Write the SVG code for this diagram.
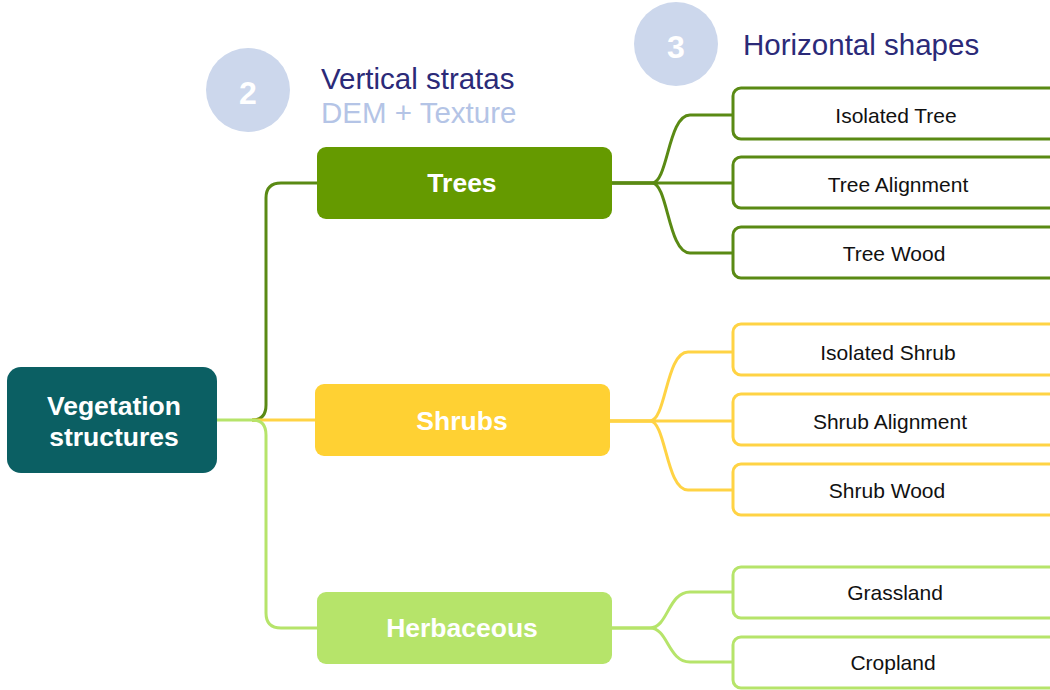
<svg xmlns="http://www.w3.org/2000/svg" width="1050" height="690" viewBox="0 0 1050 690">
<style>
.cat{font-family:"Liberation Sans",Arial,sans-serif;font-weight:bold;font-size:26.5px;fill:#fff;text-anchor:middle;dominant-baseline:central}
.leaf{font-family:"Liberation Sans",Arial,sans-serif;font-size:21px;fill:#111;text-anchor:middle;dominant-baseline:central}
.lbox{fill:#fff;stroke-width:3}
.t{stroke:#5a8a14}
.s{stroke:#ffd344}
.h{stroke:#b6e46a}
.con path{fill:none;stroke-width:3}
.num{font-family:"Liberation Sans",Arial,sans-serif;font-weight:bold;font-size:32px;fill:#fff;text-anchor:middle;dominant-baseline:central}
.head{font-family:"Liberation Sans",Arial,sans-serif;font-size:29.5px;fill:#2b2a78}
.sub{font-family:"Liberation Sans",Arial,sans-serif;font-size:29.5px;fill:#b4c4e6}
</style>
<rect width="1050" height="690" fill="#fff"/>
<g id="connectors" class="con">
<path class="h" d="M217,420 H258"/>
<path class="t" d="M252,420 Q266,420 266,405 V198 Q266,183 281,183 H318"/>
<path class="s" d="M252,420 H316"/>
<path class="h" d="M252,420 Q266,420 266,435 V613 Q266,628 281,628 H318"/>
<path class="t" d="M611,183 H652 C668,183 668,115 690,115 H733"/>
<path class="t" d="M611,183 H733"/>
<path class="t" d="M611,183 H652 C668,183 668,253 690,253 H733"/>
<path class="s" d="M609,421 H650 C666,421 666,352 688,352 H733"/>
<path class="s" d="M609,421 H733"/>
<path class="s" d="M609,421 H650 C666,421 666,490 688,490 H733"/>
<path class="h" d="M611,628 H650 C668,628 668,592 690,592 H733"/>
<path class="h" d="M611,628 H650 C668,628 668,662 690,662 H733"/>
</g>
<g id="header2">
<circle cx="248" cy="90" r="42" fill="#ccd7ec"/>
<text class="num" x="248" y="93">2</text>
<text class="head" x="321" y="89">Vertical stratas</text>
<text class="sub" x="321" y="123">DEM + Texture</text>
</g>
<g id="header3">
<circle cx="676" cy="44" r="42" fill="#ccd7ec"/>
<text class="num" x="676" y="47">3</text>
<text class="head" x="743" y="55">Horizontal shapes</text>
</g>
<g id="root">
<rect x="7" y="367" width="210" height="106" rx="14" fill="#0b5f63"/>
<text class="cat" x="114" y="406">Vegetation</text>
<text class="cat" x="114" y="437">structures</text>
</g>
<g id="trees">
<rect x="317" y="147" width="295" height="72" rx="9" fill="#659a00"/>
<text class="cat" x="462" y="183">Trees</text>
</g>
<g id="shrubs">
<rect x="315" y="384" width="295" height="72" rx="9" fill="#ffd133"/>
<text class="cat" x="462" y="421">Shrubs</text>
</g>
<g id="herbaceous">
<rect x="317" y="592" width="295" height="72" rx="9" fill="#b6e46a"/>
<text class="cat" x="462" y="628">Herbaceous</text>
</g>
<g id="isolated-tree"><rect class="lbox t" x="733" y="88" width="340" height="51" rx="8"/><text class="leaf" x="896" y="115">Isolated Tree</text></g>
<g id="tree-alignment"><rect class="lbox t" x="733" y="157" width="340" height="51" rx="8"/><text class="leaf" x="898" y="184">Tree Alignment</text></g>
<g id="tree-wood"><rect class="lbox t" x="733" y="227" width="340" height="51" rx="8"/><text class="leaf" x="894" y="253">Tree Wood</text></g>
<g id="isolated-shrub"><rect class="lbox s" x="733" y="324" width="340" height="51" rx="8"/><text class="leaf" x="888" y="352">Isolated Shrub</text></g>
<g id="shrub-alignment"><rect class="lbox s" x="733" y="394" width="340" height="51" rx="8"/><text class="leaf" x="890" y="421">Shrub Alignment</text></g>
<g id="shrub-wood"><rect class="lbox s" x="733" y="464" width="340" height="51" rx="8"/><text class="leaf" x="887" y="490">Shrub Wood</text></g>
<g id="grassland"><rect class="lbox h" x="733" y="567" width="340" height="51" rx="8"/><text class="leaf" x="895" y="592">Grassland</text></g>
<g id="cropland"><rect class="lbox h" x="733" y="637" width="340" height="51" rx="8"/><text class="leaf" x="893" y="662">Cropland</text></g>
</svg>
